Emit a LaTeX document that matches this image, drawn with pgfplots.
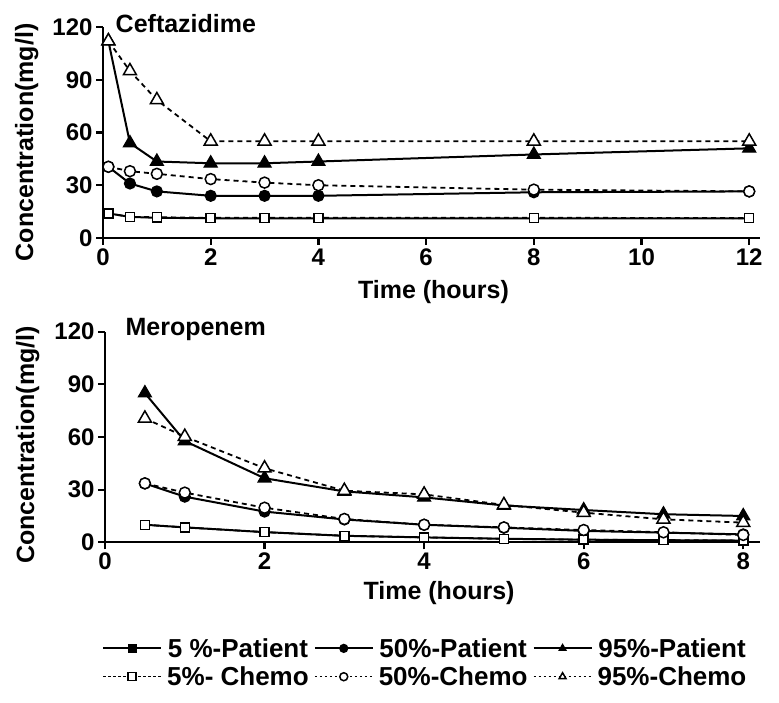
\documentclass[border=0pt]{standalone}
\usepackage{fontspec}
\setmainfont{Liberation Sans}
\usepackage{pgfplots}
\pgfplotsset{compat=1.18}

\pgfplotsset{
 panel/.style={
  scale only axis, axis lines=left, axis line style={-, line width=2.2pt},
  every tick/.style={line width=2.2pt, black}, tick align=outside, major tick length=7pt,
  xmin=0, ymin=0, ymax=120, ytick={0,30,60,90,120},
  tick label style={font=\fontsize{24}{28}\selectfont\bfseries},
  /pgf/number format/assume math mode=true,
  label style={font=\fontsize{25}{30}\selectfont\bfseries},
  ylabel={Concentration(mg/l)}, xlabel={Time (hours)},
  clip=false,
  legend image code/.code={
    \draw[##1] (0pt,0pt) -- (58pt,0pt);
    \draw[##1, mark size=4pt] plot coordinates {(29pt,0pt)};
  },
 },
 pat/.style={black, line width=2pt, solid, mark options={solid, fill=black, line width=1.2pt}},
 chem/.style={black, line width=1.8pt, dash pattern=on 5pt off 4pt,
   mark options={solid, fill=white, line width=1.5pt},
   legend image post style={dash pattern=on 2.5pt off 2.5pt, line width=1.4pt}},
 sq/.style={mark=square*, mark size=4.5pt},
 ci/.style={mark=*, mark size=5.5pt},
 tr/.style={mark=triangle*, mark size=7.5pt},
}

\begin{document}
\begin{tikzpicture}[x=1pt,y=1pt]
\path[use as bounding box] (0,0) rectangle (779,702);

% ---------- Ceftazidime ----------
\begin{axis}[panel, at={(103pt,464pt)}, anchor=south west,
  width=657pt, height=211pt, xmax=12.2, xtick={0,2,4,6,8,10,12},
  ylabel style={at={(axis description cs:-0.116,0.453)}, anchor=center},
  xlabel style={at={(axis description cs:0.503,-0.254)}, anchor=center}]
\addplot[pat, sq] coordinates {(0.1,14)(0.5,12)(1,11.5)(2,11.2)(3,11.2)(4,11.2)(8,11.2)(12,11.2)};
\addplot[pat, ci] coordinates {(0.1,40.5)(0.5,31)(1,26.5)(2,24)(3,24)(4,24)(8,26)(12,26.5)};
\addplot[pat, tr] coordinates {(0.1,112)(0.5,54)(1,43.5)(2,42.5)(3,42.5)(4,43.5)(8,47.5)(12,51)};
\addplot[chem, sq] coordinates {(0.1,14)(0.5,12)(1,11.8)(2,11.5)(3,11.5)(4,11.5)(8,11.5)(12,11.3)};
\addplot[chem, ci] coordinates {(0.1,40.5)(0.5,38)(1,36.5)(2,33.5)(3,31.5)(4,30)(8,27.5)(12,26.5)};
\addplot[chem, tr] coordinates {(0.1,112)(0.5,95)(1,78.5)(2,55)(3,55)(4,55)(8,55)(12,55)};
\node[anchor=base west, font=\fontsize{25}{30}\selectfont\bfseries] at (rel axis cs:0.014,0.972) {Ceftazidime};
\end{axis}

% ---------- Meropenem ----------
\begin{axis}[panel, at={(105pt,159.7pt)}, anchor=south west,
  width=655pt, height=210.6pt, xmax=8.21, xtick={0,2,4,6,8},
  ylabel style={at={(axis description cs:-0.118,0.462)}, anchor=center},
  xlabel style={at={(axis description cs:0.51,-0.242)}, anchor=center},
  legend columns=3,
  legend style={at={(axis description cs:0.489,-0.571)}, anchor=center,
    draw=none, fill=none, column sep=3pt, row sep=4pt,
    font=\fontsize{26}{30}\selectfont\bfseries,
    nodes={inner sep=2pt}}]
\addplot[pat, sq] coordinates {(0.5,10)(1,8.5)(2,5.8)(3,3.7)(4,2.8)(5,2)(6,1.5)(7,1.2)(8,1)};
\addplot[pat, ci] coordinates {(0.5,33.5)(1,26)(2,17.5)(3,13)(4,10)(5,8.3)(6,6.5)(7,5.5)(8,4.5)};
\addplot[pat, tr] coordinates {(0.5,85)(1,57.7)(2,36.5)(3,29)(4,25.6)(5,21)(6,18.4)(7,16)(8,15)};
\addplot[chem, sq] coordinates {(0.5,10)(1,8.5)(2,5.8)(3,3.7)(4,2.8)(5,2)(6,1.5)(7,1.2)(8,1)};
\addplot[chem, ci] coordinates {(0.5,33.6)(1,28.3)(2,19.7)(3,13.3)(4,10)(5,8.5)(6,7)(7,5.7)(8,4.2)};
\addplot[chem, tr] coordinates {(0.5,70.6)(1,60.2)(2,42.2)(3,29.4)(4,27.3)(5,21.3)(6,16.9)(7,13.1)(8,11.2)};
\legend{5 \%-Patient, 50\%-Patient, 95\%-Patient, 5\%- Chemo, 50\%-Chemo, 95\%-Chemo}
\node[anchor=base west, font=\fontsize{25}{30}\selectfont\bfseries] at (rel axis cs:0.026,0.984) {Meropenem};
\end{axis}
\end{tikzpicture}
\end{document}
